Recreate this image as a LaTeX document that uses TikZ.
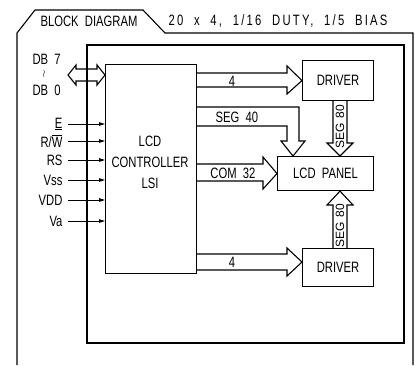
\documentclass[tikz,border=0pt]{standalone}
\usepackage{fontspec}
\setmainfont{Liberation Sans}[FakeStretch=0.75, WordSpace=2]
\newfontfamily\segfont{Liberation Sans}[WordSpace=1.5]
\usetikzlibrary{arrows.meta, positioning, calc}

\begin{document}
\begin{tikzpicture}[x=1pt, y=-1pt, line width=1.1pt,
    font=\fontsize{15pt}{17pt}\selectfont,
    blk/.style={rectangle, draw, inner sep=0pt, anchor=north west, align=center},
    bus/.style={draw, line join=miter},
    sig/.style={-{Triangle[length=6pt, width=3.5pt]}, line width=0.9pt, shorten <=5pt},
    pin/.style={anchor=east, inner sep=0pt},
    lb/.style={inner sep=0pt}]
  \useasboundingbox (0,0) rectangle (415,365);
  % frames
  \draw (17,365) -- (17,33) -- (35,10) -- (143,10) -- (165,33) -- (413,33) -- (413,365);
  \node[lb] (title) at (89,21) {BLOCK DIAGRAM};
  \node[lb, font=\fontsize{15pt}{17pt}\selectfont\addfontfeatures{LetterSpace=15}] (spec) at (278,21) {20 x 4, 1/16 DUTY, 1/5 BIAS};
  \draw (87,45) rectangle (404,343);
  % blocks
  \node[blk, minimum width=91pt, minimum height=209pt] (lsi) at (105,64) {};
  \node[lb, align=center, font=\fontsize{15pt}{21pt}\selectfont] (lsitxt) at (150,162) {LCD\\CONTROLLER\\LSI};
  \node[blk, minimum width=71pt, minimum height=40pt] (drv1) at (302,60) {DRIVER};
  \node[blk, minimum width=96pt, minimum height=34pt] (panel) at (277,156) {LCD PANEL};
  \node[blk, minimum width=71pt, minimum height=38pt] (drv2) at (302,248) {DRIVER};
  % data bus
  \draw[bus] (lsi.west |- 0,75) -- (97,65) -- (97,69) -- (76,69) -- (76,65) -- (68,75)
    -- (76,85) -- (76,81) -- (97,81) -- (97,85) -- cycle;
  \node[lb, anchor=west] (db7) at (32,59) {DB 7};
  \node[lb, font=\fontsize{10pt}{10pt}\selectfont] (dbdots) at (44,74) {$\wr$};
  \node[lb, anchor=west] (db0) at (32,90) {DB 0};
  % control pins
  \node[pin] (e) at (63,124) {\underline{E}};
  \node[pin] (rw) at (63,141) {R/$\overline{\mbox{W}}$};
  \node[pin] (rs) at (63,160) {RS};
  \node[pin] (vss) at (63,180) {Vss};
  \node[pin] (vdd) at (63,200) {VDD};
  \node[pin] (va) at (63,221) {Va};
  \foreach \p in {e, rw, rs, vss, vdd, va}
    \draw[sig] (\p.east) -- (\p.east -| lsi.west);
  % buses to drivers and panel
  \draw[bus] (lsi.east |- 0,73) -- (287,73) -- (287,66) -- (drv1.west) -- (287,94)
    -- (287,87) -- (lsi.east |- 0,87);
  \node[lb] (n4a) at (232,81) {4};
  \draw[bus] (lsi.east |- 0,107) -- (299,107) -- (299,141) -- (305,141) -- (panel.north -| 293,0)
    -- (281,141) -- (287,141) -- (287,126) -- (lsi.east |- 0,126);
  \node[lb] (seg40) at (237,117) {SEG 40};
  \draw[bus] (lsi.east |- 0,164) -- (263,164) -- (263,157) -- (panel.west) -- (263,189)
    -- (263,181) -- (lsi.east |- 0,181);
  \node[lb] (com32) at (233,173) {COM 32};
  \draw[bus] (lsi.east |- 0,254) -- (287,254) -- (287,248) -- (drv2.west |- 0,262) -- (287,276)
    -- (287,270) -- (lsi.east |- 0,270);
  \node[lb] (n4b) at (232,262) {4};
  \draw[bus] (drv1.south -| 333,0) -- (333,143) -- (327,143) -- (panel.north -| 340,0)
    -- (353,143) -- (347,143) -- (drv1.south -| 347,0);
  \node[lb, rotate=90, font=\segfont\fontsize{12pt}{12pt}\selectfont] (seg80a) at (340,127) {SEG 80};
  \draw[bus] (drv2.north -| 333,0) -- (333,205) -- (327,205) -- (panel.south -| 340,0)
    -- (353,205) -- (347,205) -- (drv2.north -| 347,0);
  \node[lb, rotate=90, font=\segfont\fontsize{12pt}{12pt}\selectfont] (seg80b) at (340,226) {SEG 80};
\end{tikzpicture}
\end{document}
